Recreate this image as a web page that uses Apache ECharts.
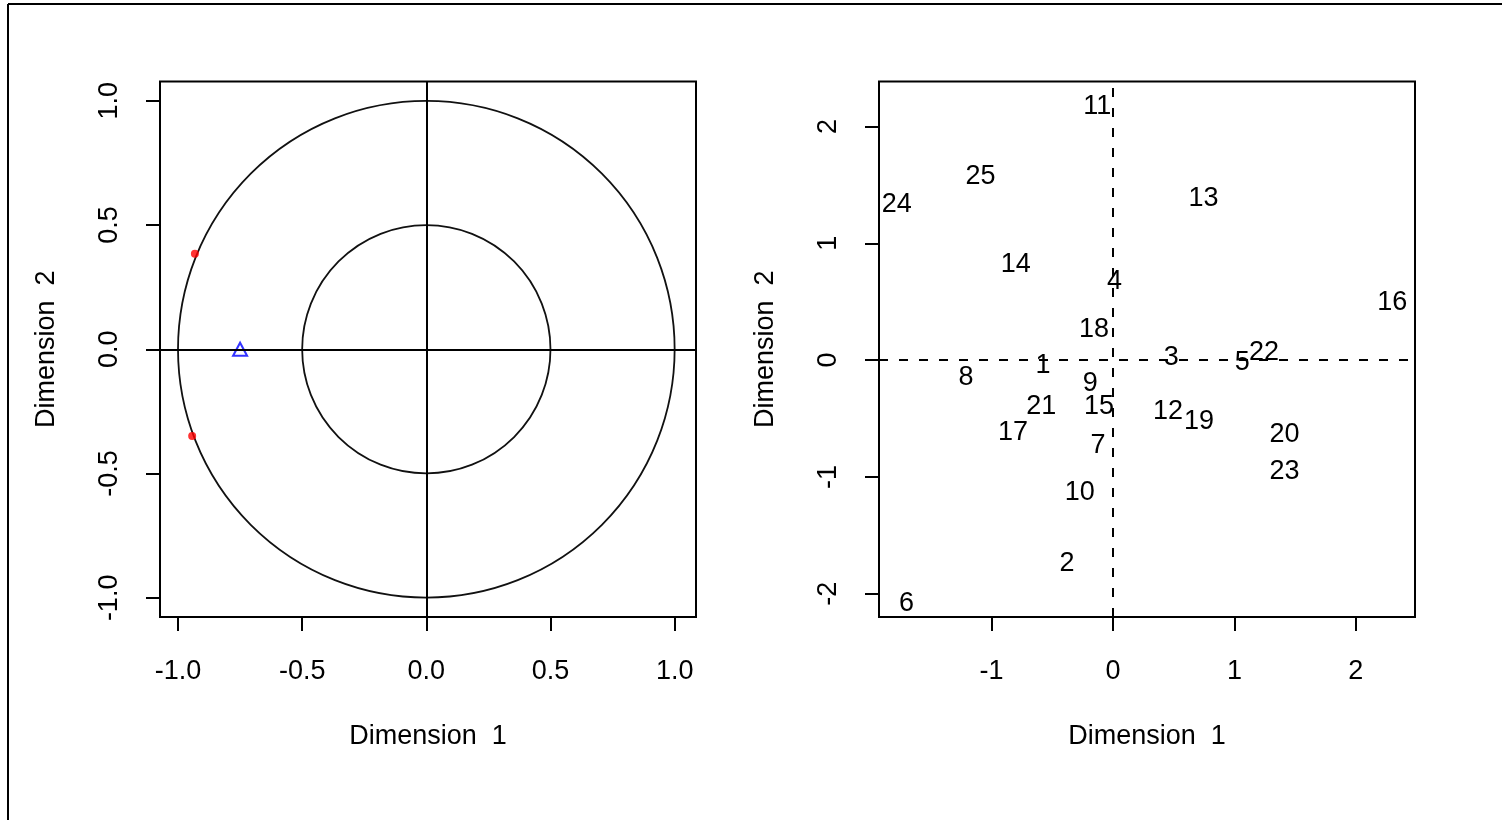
<!DOCTYPE html>
<html>
<head>
<meta charset="utf-8">
<script src="https://cdn.jsdelivr.net/npm/echarts@6/dist/echarts.min.js"></script>
<style>
html,body{margin:0;padding:0;background:#fff;}
#c{width:1502px;height:820px;}
</style>
</head>
<body>
<div id="c"></div>
<script>
// ---- Data ----
// Left panel: correlation circle
const ticksLeft = [-1.0, -0.5, 0.0, 0.5, 1.0];
const circleRadii = [1.0, 0.5];
const redPoints = [[-0.932, 0.384], [-0.943, -0.349]];
const bluePoints = [[-0.75, 0.0]];
// Right panel: individuals
const ticksRightX = [-1, 0, 1, 2];
const ticksRightY = [-2, -1, 0, 1, 2];
const pointLabels = ['1','2','3','4','5','6','7','8','9','10','11','12','13','14','15','16','17','18','19','20','21','22','23','24','25'];
const dim1 = [-0.576,-0.379,0.48,0.014,1.065,-1.70,-0.123,-1.21,-0.186,-0.274,-0.13,0.453,0.746,-0.80,-0.115,2.30,-0.823,-0.156,0.708,1.413,-0.59,1.243,1.413,-1.78,-1.09];
const dim2 = [-0.03,-1.728,0.043,0.69,-0.006,-2.07,-0.714,-0.13,-0.186,-1.114,2.185,-0.423,1.405,0.834,-0.377,0.506,-0.60,0.28,-0.508,-0.623,-0.377,0.086,-0.937,1.35,1.585];
const axisTitleX = 'Dimension  1';
const axisTitleY = 'Dimension  2';

// ---- Styles ----
const FONT = "'Liberation Sans', Arial, sans-serif";
const FS = 27;
const INK = '#000';

function valueAxis(gridIndex, min, max, ticks, fmt, isY, name) {
  return {
    type: 'value', gridIndex, min, max,
    splitLine: {show: false},
    axisLine: {show: false, onZero: false},
    axisTick: {show: true, inside: false, length: 14, customValues: ticks,
      lineStyle: {color: INK, width: 2}},
    axisLabel: {
      customValues: ticks,
      formatter: fmt,
      color: INK, fontFamily: FONT, fontSize: FS,
      margin: isY ? 37 : 41,
      rotate: isY ? 90 : 0
    },
    name: name, nameLocation: 'middle',
    nameGap: isY ? 100 : 106,
    nameTextStyle: {color: INK, fontFamily: FONT, fontSize: FS}
  };
}

const rightData = pointLabels.map((l, i) => ({name: l, value: [dim1[i], dim2[i]]}));

const option = {
  animation: false,
  backgroundColor: '#fff',
  grid: [
    {left: 160, top: 81.5, width: 536, height: 535.5, show: true, borderColor: INK, borderWidth: 2, backgroundColor: 'transparent'},
    {left: 879, top: 81.5, width: 536, height: 535.5, show: true, borderColor: INK, borderWidth: 2, backgroundColor: 'transparent'}
  ],
  xAxis: [
    valueAxis(0, -1.0725, 1.086, ticksLeft, v => v.toFixed(1), false, axisTitleX),
    valueAxis(1, -1.926, 2.487, ticksRightX, v => String(v), false, axisTitleX)
  ],
  yAxis: [
    valueAxis(0, -1.077, 1.077, ticksLeft, v => v.toFixed(1), true, axisTitleY),
    valueAxis(1, -2.20, 2.386, ticksRightY, v => String(v), true, axisTitleY)
  ],
  graphic: [
    {type: 'line', shape: {x1: 8, y1: 4, x2: 1502, y2: 4}, style: {stroke: INK, lineWidth: 2}},
    {type: 'line', shape: {x1: 8, y1: 4, x2: 8, y2: 820}, style: {stroke: INK, lineWidth: 2}}
  ],
  series: [
    {
      type: 'custom', xAxisIndex: 0, yAxisIndex: 0,
      data: circleRadii.map(r => [0, 0, r]),
      renderItem: function (params, api) {
        const c = api.coord([api.value(0), api.value(1)]);
        const s = api.size([api.value(2), api.value(2)]);
        return {type: 'circle', shape: {cx: c[0], cy: c[1], r: s[0]},
          style: {fill: 'none', stroke: '#111', lineWidth: 1.8}};
      },
      markLine: {
        silent: true, symbol: 'none', animation: false,
        label: {show: false},
        lineStyle: {color: INK, type: 'solid', width: 2},
        data: [{xAxis: 0}, {yAxis: 0}]
      },
      z: 2
    },
    {
      type: 'scatter', xAxisIndex: 0, yAxisIndex: 0,
      data: redPoints, symbol: 'circle', symbolSize: 8,
      itemStyle: {color: '#ff0000'}, z: 3
    },
    {
      type: 'scatter', xAxisIndex: 0, yAxisIndex: 0,
      data: bluePoints, symbol: 'triangle', symbolSize: [14, 13],
      itemStyle: {color: 'rgba(0,0,0,0)', borderColor: '#0000ff', borderWidth: 2}, z: 3
    },
    {
      type: 'scatter', xAxisIndex: 1, yAxisIndex: 1,
      data: rightData, symbolSize: 0.01,
      itemStyle: {color: '#000', opacity: 1},
      label: {show: true, position: 'inside', formatter: p => p.name,
        color: INK, opacity: 1, textBorderWidth: 0, offset: [0, 2],
        fontFamily: FONT, fontSize: FS},
      markLine: {
        silent: true, symbol: 'none', animation: false,
        label: {show: false},
        lineStyle: {color: INK, type: [9, 11], width: 2},
        data: [{xAxis: 0}, {yAxis: 0}]
      },
      z: 3
    }
  ]
};

const chart = echarts.init(document.getElementById('c'), null, {renderer: 'canvas'});
chart.setOption(option);
</script>
</body>
</html>
